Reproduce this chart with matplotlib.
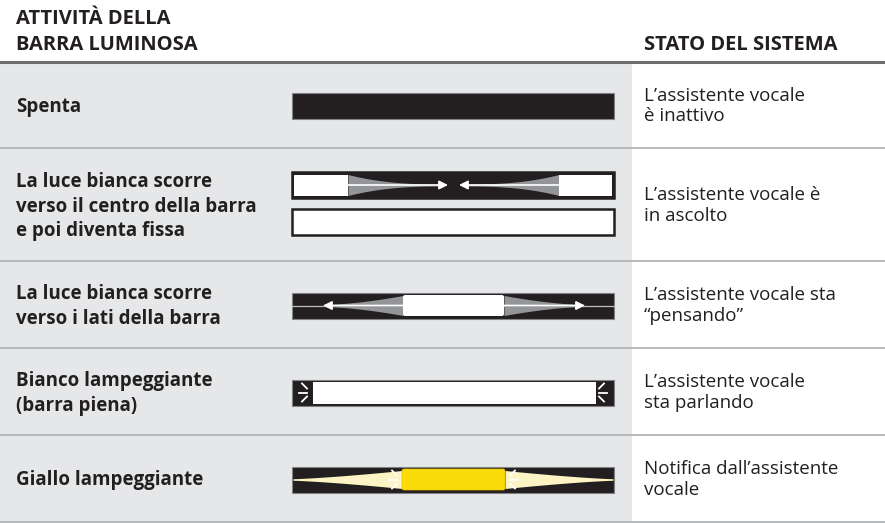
import numpy as np
import matplotlib
matplotlib.use("Agg")
import matplotlib.pyplot as plt
from matplotlib.patches import Rectangle, FancyBboxPatch

plt.rcParams['font.family'] = ['Open Sans', 'DejaVu Sans']

# Testi della tabella
intestazione_sx = "ATTIVITÀ DELLA\nBARRA LUMINOSA"
intestazione_dx = "STATO DEL SISTEMA"
attivita = [
    "Spenta",
    "La luce bianca scorre\nverso il centro della barra\ne poi diventa fissa",
    "La luce bianca scorre\nverso i lati della barra",
    "Bianco lampeggiante\n(barra piena)",
    "Giallo lampeggiante",
]
stato = [
    "L’assistente vocale\nè inattivo",
    "L’assistente vocale è\nin ascolto",
    "L’assistente vocale sta\n“pensando”",
    "L’assistente vocale\nsta parlando",
    "Notifica dall’assistente\nvocale",
]
schema_barra = ["spenta", "centro", "lati", "lampeggio", "giallo"]

# Layout in pixel
W, H = 885, 523
bordi_righe = [62, 148, 261, 348, 435, 522]
X_PANNELLO = 632
BX0, BX1 = 292, 614
BH = 26

NERO = "#231f20"
GRIGIO_PANNELLO = "#e6e7e8"
GRIGIO_LINEA = "#b1b3b6"
GRIGIO_FASCIO = "#939598"
GIALLO = "#f9dc0a"
GIALLO_CHIARO = "#fdf3c4"

fig = plt.figure(figsize=(W / 100, H / 100), dpi=100)
ax = fig.add_axes([0, 0, 1, 1])
ax.set_xlim(0, W)
ax.set_ylim(H, 0)
ax.axis("off")

# Pannello grigio
ax.add_patch(Rectangle((0, bordi_righe[0]), X_PANNELLO, bordi_righe[-1] - bordi_righe[0],
                       facecolor=GRIGIO_PANNELLO, edgecolor="none", zorder=0))
ax.plot([0, W], [bordi_righe[0], bordi_righe[0]], color="#6d6e71", lw=2.2, zorder=3)
for y in bordi_righe[1:]:
    ax.plot([0, W], [y, y], color=GRIGIO_LINEA, lw=1.3, zorder=3)

# Intestazioni
ax.text(16, 32, intestazione_sx, fontsize=14.5, fontweight="bold", color=NERO,
        va="center", ha="left", linespacing=1.45)
ax.text(644, 45, intestazione_dx, fontsize=14.5, fontweight="bold", color=NERO,
        va="center", ha="left")


def barra(y0, fc=NERO, ec="#808285", lw=0.8):
    ax.add_patch(Rectangle((BX0, y0), BX1 - BX0, BH, facecolor=fc, edgecolor=ec, lw=lw, zorder=2))


def fascio(xa, xb, yc, h0, h1, colore, potenza=2.0):
    xs = np.linspace(xa, xb, 60)
    t = np.linspace(0, 1, 60)
    h = h1 + (h0 - h1) * (1 - t) ** potenza
    ax.fill_between(xs, yc - h, yc + h, color=colore, lw=0, zorder=3)


def freccia(x0, x1, y, colore="white"):
    ax.annotate("", xy=(x1, y), xytext=(x0, y), zorder=5,
                arrowprops=dict(arrowstyle="-|>", color=colore, lw=1.2,
                                mutation_scale=13, shrinkA=0, shrinkB=0))


def raggi(xc, yc, verso, colore="white"):
    # tre tratti che si irradiano verso l'esterno
    s = verso
    ax.plot([xc - s * 3, xc - s * 8], [yc - 4, yc - 9], color=colore, lw=1.3, zorder=5)
    ax.plot([xc - s * 3, xc - s * 11], [yc, yc], color=colore, lw=1.3, zorder=5)
    ax.plot([xc - s * 3, xc - s * 8], [yc + 4, yc + 9], color=colore, lw=1.3, zorder=5)


for i, (lab, st, tipo) in enumerate(zip(attivita, stato, schema_barra)):
    y_top, y_bot = bordi_righe[i], bordi_righe[i + 1]
    yc = (y_top + y_bot) / 2 + 1
    ax.text(16, yc + 1, lab, fontsize=13.5, fontweight="bold", color=NERO,
            va="center", ha="left", linespacing=1.27)
    ax.text(644, yc, st, fontsize=13.5, color=NERO, va="center", ha="left", linespacing=1.2)

    if tipo == "spenta":
        barra(yc - BH / 2)
    elif tipo == "centro":
        y1 = 172
        barra(y1, ec=NERO, lw=1.8)
        c = y1 + BH / 2
        ax.add_patch(Rectangle((BX0 + 2, y1 + 2.5), 54, BH - 5, facecolor="white", lw=0, zorder=4))
        ax.add_patch(Rectangle((559, y1 + 2.5), BX1 - 2 - 559, BH - 5, facecolor="white", lw=0, zorder=4))
        fascio(348, 442, c, 10.5, 1.0, GRIGIO_FASCIO, 2.5)
        fascio(559, 465, c, 10.5, 1.0, GRIGIO_FASCIO, 2.5)
        freccia(348, 448, c)
        freccia(559, 459, c)
        barra(209, fc="white", ec=NERO, lw=1.8)
    elif tipo == "lati":
        y1 = yc - BH / 2
        barra(y1)
        ax.plot([BX0, BX1], [yc, yc], color="#bcbec0", lw=0.9, zorder=3)
        fascio(403, 323, yc, 10, 1.0, GRIGIO_FASCIO, 1.6)
        fascio(504, 584, yc, 10, 1.0, GRIGIO_FASCIO, 1.6)
        ax.add_patch(FancyBboxPatch((403, y1 + 2.5), 101, BH - 5,
                                    boxstyle="round,pad=0,rounding_size=2",
                                    facecolor="white", lw=0, zorder=4))
        freccia(403, 323, yc)
        freccia(504, 585, yc)
    elif tipo == "lampeggio":
        y1 = yc - BH / 2
        barra(y1)
        ax.add_patch(Rectangle((313, y1 + 2), 596 - 313, BH - 4, facecolor="white", lw=0, zorder=4))
        raggi(310, yc, 1)
        raggi(BX1 - (310 - BX0), yc, -1)
    elif tipo == "giallo":
        y1 = yc - BH / 2
        barra(y1)
        fascio(402, BX0 + 1, yc, 9, 0.8, GIALLO_CHIARO, 1.3)
        fascio(505, BX1 - 1, yc, 9, 0.8, GIALLO_CHIARO, 1.3)
        ax.add_patch(FancyBboxPatch((402, y1 + 2.5), 103, BH - 5,
                                    boxstyle="round,pad=0,rounding_size=2",
                                    facecolor=GIALLO, edgecolor="#e0c000", lw=0.5, zorder=4))
        raggi(400, yc, 1)
        raggi(507, yc, -1)

fig.savefig("out.png", dpi=100)
